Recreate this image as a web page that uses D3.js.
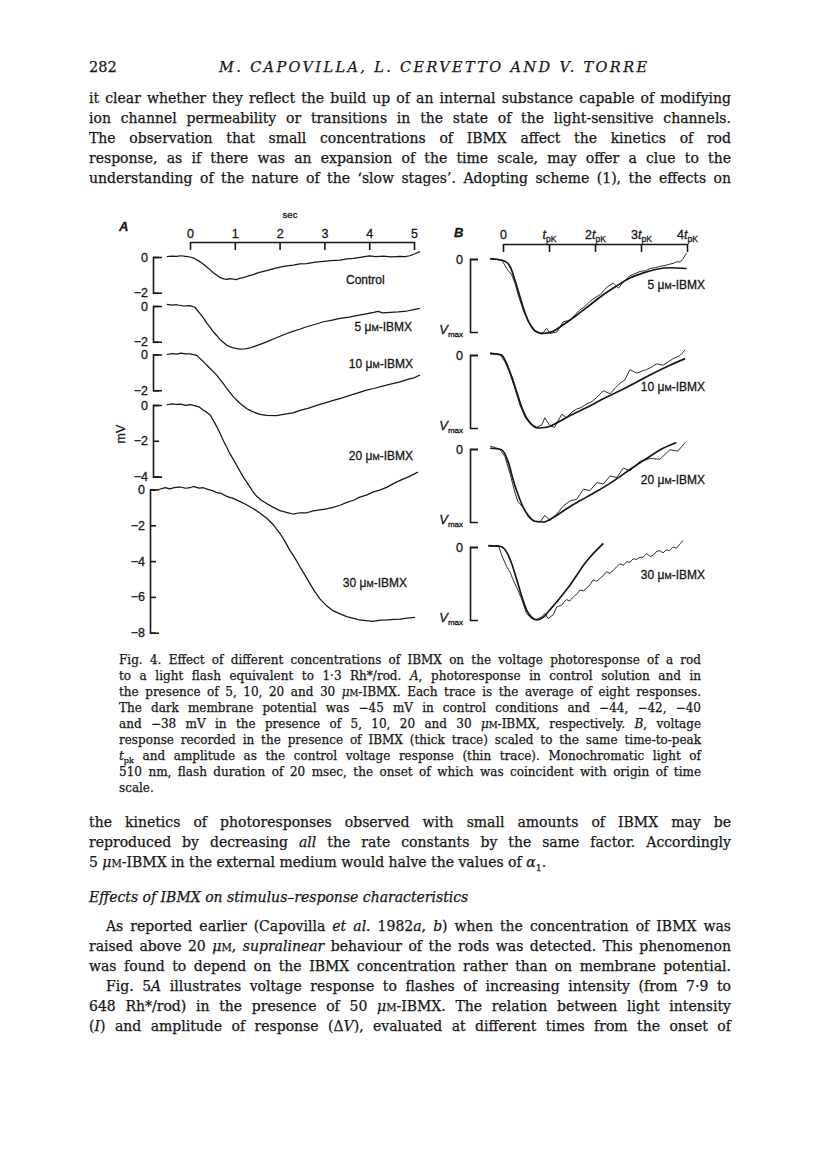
<!DOCTYPE html>
<html>
<head>
<meta charset="utf-8">
<script src="https://cdn.jsdelivr.net/npm/d3@7"></script>
<style>
body { margin: 0; background: #fff; }
svg { display: block; }
.serif { font-family: "DejaVu Serif", serif; fill: #161616; stroke: #161616; stroke-width: 0.25px; }
.sans { font-family: "Liberation Sans", Arial, sans-serif; fill: #161616; stroke: #161616; stroke-width: 0.3px; }
</style>
</head>
<body>
<div id="page"></div>
<script>

// ---------- data ----------

// panel A: [time (sec), voltage (mV)] per trace
var traceControl = [[-0.52,0.02],[-0.4,0.05],[-0.3,0.03],[-0.2,0.07],[-0.1,0.04],[0,0],[0.1,-0.08],[0.22,-0.26],[0.3,-0.4],[0.37,-0.54],[0.45,-0.72],[0.52,-0.88],[0.6,-1.02],[0.67,-1.14],[0.75,-1.22],[0.82,-1.25],[0.9,-1.21],[0.97,-1.24],[1.04,-1.26],[1.1,-1.2],[1.19,-1.15],[1.3,-1.06],[1.41,-0.98],[1.55,-0.86],[1.71,-0.76],[1.85,-0.66],[2.01,-0.56],[2.15,-0.5],[2.31,-0.46],[2.45,-0.38],[2.6,-0.37],[2.8,-0.28],[2.98,-0.24],[3.15,-0.2],[3.35,-0.17],[3.5,-0.1],[3.65,-0.08],[3.8,-0.02],[4,0.06],[4.15,0.02],[4.32,0.05],[4.5,0.01],[4.69,0.04],[4.8,0.02],[4.91,0.07],[5.02,0.18],[5.13,0.3]];
var trace5 = [[-0.52,0.09],[-0.4,0.05],[-0.3,0.07],[-0.15,0],[0,0.02],[0.11,-0.07],[0.22,-0.41],[0.3,-0.66],[0.37,-0.94],[0.45,-1.2],[0.52,-1.44],[0.6,-1.66],[0.67,-1.87],[0.75,-2.04],[0.82,-2.19],[0.9,-2.28],[0.97,-2.34],[1.05,-2.38],[1.12,-2.41],[1.2,-2.4],[1.26,-2.38],[1.34,-2.34],[1.41,-2.28],[1.55,-2.16],[1.71,-2],[1.85,-1.86],[2.01,-1.69],[2.15,-1.55],[2.31,-1.4],[2.45,-1.3],[2.6,-1.16],[2.8,-1.02],[2.98,-0.88],[3.15,-0.8],[3.35,-0.69],[3.55,-0.62],[3.72,-0.54],[3.9,-0.46],[4.1,-0.36],[4.2,-0.3],[4.3,-0.38],[4.47,-0.36],[4.65,-0.33],[4.84,-0.28],[5,-0.2],[5.13,-0.13]];
var trace10 = [[-0.52,0],[-0.4,0.05],[-0.3,0.02],[-0.2,0.08],[-0.1,0.03],[0,0.04],[0.1,-0.02],[0.16,-0.06],[0.22,-0.22],[0.3,-0.4],[0.37,-0.59],[0.45,-0.78],[0.52,-0.96],[0.6,-1.17],[0.67,-1.39],[0.75,-1.64],[0.82,-1.9],[0.9,-2.14],[0.97,-2.37],[1.05,-2.57],[1.12,-2.74],[1.2,-2.89],[1.26,-3.02],[1.34,-3.12],[1.41,-3.21],[1.56,-3.34],[1.71,-3.4],[1.93,-3.42],[2.15,-3.32],[2.3,-3.26],[2.46,-3.12],[2.65,-3],[2.83,-2.84],[3,-2.72],[3.2,-2.56],[3.38,-2.44],[3.57,-2.28],[3.75,-2.14],[3.94,-1.99],[4.1,-1.9],[4.32,-1.75],[4.5,-1.64],[4.69,-1.53],[4.9,-1.36],[5,-1.3],[5.13,-1.15]];
var trace20 = [[-0.52,0],[-0.4,0.06],[-0.3,0.03],[-0.2,0.05],[-0.1,-0.02],[0,0.02],[0.1,-0.03],[0.2,-0.1],[0.29,-0.28],[0.37,-0.4],[0.45,-0.56],[0.52,-0.86],[0.6,-1.22],[0.67,-1.58],[0.74,-1.97],[0.82,-2.36],[0.89,-2.72],[0.97,-3.05],[1.04,-3.37],[1.12,-3.72],[1.19,-4.03],[1.27,-4.32],[1.34,-4.59],[1.41,-4.86],[1.49,-5.1],[1.6,-5.33],[1.72,-5.52],[1.86,-5.72],[2.01,-5.9],[2.15,-6],[2.3,-6.09],[2.45,-6.02],[2.61,-6.02],[2.75,-5.92],[2.9,-5.86],[3.05,-5.8],[3.19,-5.72],[3.35,-5.6],[3.5,-5.44],[3.65,-5.32],[3.79,-5.15],[3.95,-5.02],[4.08,-4.87],[4.25,-4.74],[4.4,-4.59],[4.55,-4.38],[4.69,-4.21],[4.85,-4.04],[5,-3.86],[5.09,-3.74]];
var trace30 = [[-0.7,0],[-0.55,0.1],[-0.45,0.04],[-0.35,0.1],[-0.22,0.14],[-0.1,0.07],[0,0.1],[0.07,0.17],[0.2,0.08],[0.3,0.1],[0.38,0.02],[0.5,-0.06],[0.6,-0.18],[0.7,-0.22],[0.83,-0.4],[0.95,-0.48],[1.12,-0.68],[1.25,-0.84],[1.41,-1.06],[1.55,-1.3],[1.72,-1.62],[1.87,-2],[2.01,-2.46],[2.12,-2.9],[2.23,-3.4],[2.35,-3.86],[2.46,-4.34],[2.57,-4.8],[2.68,-5.27],[2.79,-5.72],[2.9,-6.11],[3.05,-6.5],[3.19,-6.77],[3.35,-6.95],[3.5,-7.1],[3.65,-7.2],[3.79,-7.29],[3.93,-7.32],[4.08,-7.37],[4.25,-7.3],[4.4,-7.29],[4.55,-7.26],[4.69,-7.24],[4.85,-7.18],[5.02,-7.15]];

var tracesA = [traceControl, trace5, trace10, trace20, trace30];
var labelsA = ["Control", "5 μ^M^-IBMX", "10 μ^M^-IBMX", "20 μ^M^-IBMX", "30 μ^M^-IBMX"];
var bracketTicksA = [[0, -2], [0, -2], [0, -2], [0, -2, -4], [0, -2, -4, -6, -8]];
var timeTicksA = [0, 1, 2, 3, 4, 5];

// panel B: [time (units of tpk), voltage (fraction of Vmax)]
var thick5 = [[-0.28,0],[0,-0.02],[0.15,-0.1],[0.26,-0.29],[0.37,-0.52],[0.48,-0.74],[0.59,-0.9],[0.73,-1],[0.88,-1.02],[1.09,-0.99],[1.31,-0.9],[1.6,-0.77],[1.89,-0.63],[2.18,-0.49],[2.47,-0.37],[2.76,-0.26],[3.05,-0.19],[3.34,-0.14],[3.63,-0.12],[3.99,-0.13]];
var thin5 = [[-0.28,0.01],[-0.03,-0.01],[0.08,-0.13],[0.19,-0.22],[0.26,-0.33],[0.33,-0.49],[0.44,-0.7],[0.55,-0.86],[0.7,-0.98],[0.84,-1.03],[0.95,-0.95],[1.02,-1.02],[1.17,-1],[1.31,-0.86],[1.46,-0.84],[1.57,-0.76],[1.67,-0.7],[1.78,-0.65],[1.89,-0.58],[2,-0.53],[2.11,-0.49],[2.25,-0.39],[2.4,-0.33],[2.51,-0.4],[2.62,-0.31],[2.76,-0.23],[2.87,-0.2],[2.98,-0.17],[3.1,-0.16],[3.2,-0.13],[3.3,-0.12],[3.41,-0.1],[3.52,-0.09],[3.63,-0.07],[3.7,-0.06],[3.77,-0.04],[3.85,-0.04],[3.92,0.01],[3.99,0.08]];
var thick10 = [[-0.28,0.02],[-0.03,0],[0.08,-0.12],[0.19,-0.3],[0.3,-0.51],[0.41,-0.72],[0.51,-0.86],[0.62,-0.95],[0.77,-1],[0.95,-0.99],[1.17,-0.93],[1.46,-0.83],[1.82,-0.72],[2.18,-0.6],[2.54,-0.49],[2.91,-0.37],[3.27,-0.25],[3.63,-0.14],[3.96,-0.05]];
var thin10 = [[-0.28,0.03],[-0.07,0.01],[0.04,-0.09],[0.15,-0.25],[0.26,-0.46],[0.37,-0.69],[0.48,-0.85],[0.59,-0.94],[0.73,-0.99],[0.84,-0.96],[0.91,-0.86],[1.02,-0.97],[1.12,-0.99],[1.28,-0.81],[1.38,-0.86],[1.5,-0.78],[1.6,-0.74],[1.7,-0.72],[1.82,-0.67],[1.93,-0.64],[2.04,-0.58],[2.18,-0.49],[2.33,-0.53],[2.44,-0.45],[2.54,-0.39],[2.65,-0.34],[2.76,-0.2],[2.91,-0.25],[3.02,-0.22],[3.12,-0.2],[3.22,-0.17],[3.34,-0.12],[3.48,-0.14],[3.6,-0.09],[3.7,-0.05],[3.84,-0.01],[3.96,0.07]];
var thick20 = [[-0.28,0.01],[-0.03,-0.01],[0.12,-0.19],[0.22,-0.42],[0.33,-0.63],[0.44,-0.8],[0.55,-0.91],[0.7,-0.99],[0.88,-1],[1.09,-0.94],[1.31,-0.85],[1.53,-0.76],[1.67,-0.71],[2.04,-0.58],[2.4,-0.44],[2.76,-0.28],[3.12,-0.13],[3.48,0.01],[3.77,0.09]];
var thin20 = [[-0.28,0.04],[-0.07,0],[0.04,-0.1],[0.15,-0.33],[0.26,-0.6],[0.33,-0.73],[0.44,-0.8],[0.55,-0.93],[0.66,-0.99],[0.8,-1],[0.91,-0.91],[1.02,-0.98],[1.17,-0.89],[1.31,-0.78],[1.46,-0.71],[1.6,-0.69],[1.75,-0.55],[1.89,-0.57],[2.04,-0.46],[2.18,-0.48],[2.33,-0.37],[2.47,-0.39],[2.62,-0.26],[2.76,-0.3],[2.98,-0.17],[3.2,-0.13],[3.41,-0.14],[3.63,-0.01],[3.8,-0.03],[3.96,0.09]];
var thick30 = [[-0.32,0.02],[-0.07,0.01],[0.08,-0.07],[0.19,-0.23],[0.3,-0.45],[0.41,-0.68],[0.51,-0.86],[0.62,-0.96],[0.73,-1],[0.88,-0.96],[1.02,-0.86],[1.17,-0.75],[1.31,-0.64],[1.46,-0.52],[1.6,-0.39],[1.75,-0.25],[1.89,-0.14],[2.04,-0.04],[2.18,0.05]];
var thin30 = [[-0.32,0.01],[-0.1,0.02],[-0.03,-0.11],[0.08,-0.27],[0.15,-0.34],[0.22,-0.45],[0.31,-0.57],[0.41,-0.72],[0.51,-0.91],[0.62,-0.98],[0.73,-0.99],[0.84,-0.96],[0.91,-0.91],[0.98,-0.98],[1.09,-0.93],[1.17,-0.82],[1.27,-0.8],[1.32,-0.76],[1.38,-0.72],[1.45,-0.74],[1.53,-0.68],[1.6,-0.65],[1.67,-0.59],[1.75,-0.6],[1.82,-0.56],[1.89,-0.52],[1.96,-0.45],[2.04,-0.47],[2.11,-0.43],[2.18,-0.39],[2.25,-0.34],[2.32,-0.36],[2.4,-0.32],[2.47,-0.27],[2.54,-0.23],[2.62,-0.25],[2.69,-0.2],[2.76,-0.21],[2.83,-0.16],[2.9,-0.17],[2.98,-0.14],[3.05,-0.14],[3.12,-0.09],[3.2,-0.13],[3.27,-0.11],[3.34,-0.06],[3.41,-0.05],[3.48,-0.08],[3.55,-0.04],[3.62,-0.05],[3.7,0],[3.77,-0.02],[3.84,0.04],[3.92,0.09]];

var thickB = [thick5, thick10, thick20, thick30];
var thinB = [thin5, thin10, thin20, thin30];
var labelsB = ["5 μ^M^-IBMX", "10 μ^M^-IBMX", "20 μ^M^-IBMX", "30 μ^M^-IBMX"];
var timeTicksB = [0, 1, 2, 3, 4];

// page text (_italic_, ^small caps^, ~subscript~)
var header = "282";
var runningTitle = "M. CAPOVILLA, L. CERVETTO AND V. TORRE";
var bodyTop = [
    "it clear whether they reflect the build up of an internal substance capable of modifying",
    "ion channel permeability or transitions in the state of the light-sensitive channels.",
    "The observation that small concentrations of IBMX affect the kinetics of rod",
    "response, as if there was an expansion of the time scale, may offer a clue to the",
    "understanding of the nature of the \u2018slow stages\u2019. Adopting scheme (1), the effects on"
];
var caption = [
    "Fig. 4. Effect of different concentrations of IBMX on the voltage photoresponse of a rod",
    "to a light flash equivalent to 1\u00b73 Rh*/rod. _A_, photoresponse in control solution and in",
    "the presence of 5, 10, 20 and 30 _μ_^M^-IBMX. Each trace is the average of eight responses.",
    "The dark membrane potential was \u221245 mV in control conditions and \u221244, \u221242, \u221240",
    "and \u221238 mV in the presence of 5, 10, 20 and 30 _μ_^M^-IBMX, respectively. _B_, voltage",
    "response recorded in the presence of IBMX (thick trace) scaled to the same time-to-peak",
    "_t_~pk~ and amplitude as the control voltage response (thin trace). Monochromatic light of",
    "510 nm, flash duration of 20 msec, the onset of which was coincident with origin of time",
    "scale."
];
var bodyBottom = [
    "the kinetics of photoresponses observed with small amounts of IBMX may be",
    "reproduced by decreasing _all_ the rate constants by the same factor. Accordingly",
    "5 _μ_^M^-IBMX in the external medium would halve the values of _α_~1~."
];
var heading = "Effects of IBMX on stimulus\u2013response characteristics";
var bodyLast = [
    "As reported earlier (Capovilla _et al_. 1982_a_, _b_) when the concentration of IBMX was",
    "raised above 20 _μ_^M^, _supralinear_ behaviour of the rods was detected. This phenomenon",
    "was found to depend on the IBMX concentration rather than on membrane potential.",
    "Fig. 5_A_ illustrates voltage response to flashes of increasing intensity (from 7\u00b79 to",
    "648 Rh*/rod) in the presence of 50 _μ_^M^-IBMX. The relation between light intensity",
    "(_I_) and amplitude of response (\u0394_V_), evaluated at different times from the onset of"
];

// ---------- page ----------

var svg = d3.select("#page").append("svg")
    .attr("width", 816)
    .attr("height", 1160);

svg.append("rect").attr("width", 816).attr("height", 1160).attr("fill", "#fff");

// write a line of mixed text
function richText(g, x, y, str, size, cls) {
    var t = g.append("text").attr("class", cls).attr("x", x).attr("y", y).attr("font-size", size);
    var parts = str.split(/(_[^_]+_|\^[^^]+\^|~[^~]+~)/).filter(s => s.length);
    var shift = 0;
    parts.forEach(function(p) {
        var ts = t.append("tspan");
        var dy = 0;
        if (p[0] === "_") {
            ts.attr("font-style", "italic");
            p = p.slice(1, -1);
        } else if (p[0] === "^") {
            ts.attr("font-size", size * 0.72);
            p = p.slice(1, -1);
        } else if (p[0] === "~") {
            ts.attr("font-size", size * 0.68);
            p = p.slice(1, -1);
            dy = size * 0.28;
        }
        if (dy - shift !== 0) ts.attr("dy", dy - shift);
        shift = dy;
        ts.text(p);
    });
    return t;
}

// justify by word spacing, squeeze glyphs if the line is too long
function textLine(g, x, y, w, str, size, justify) {
    var t = richText(g, x, y, str, size, "serif");
    if (justify) {
        var len = t.node().getComputedTextLength();
        var n = (str.match(/ /g) || []).length;
        if (len > w) {
            t.attr("textLength", w).attr("lengthAdjust", "spacingAndGlyphs");
        } else if (n) {
            t.style("word-spacing", ((w - len) / n) + "px");
        }
    }
    return t;
}

var text = svg.append("g");
var left = 89, right = 731, bodySize = 14, lead = 20;

text.append("text").attr("class", "serif").attr("x", left).attr("y", 72)
    .attr("font-size", 14.5).text(header);
text.append("text").attr("class", "serif").attr("x", 219).attr("y", 72)
    .attr("font-size", 14.5).attr("font-style", "italic")
    .attr("textLength", 428).attr("lengthAdjust", "spacing")
    .text(runningTitle);

bodyTop.forEach(function(s, i) {
    textLine(text, left, 103 + i * lead, right - left, s, bodySize, true);
});

caption.forEach(function(s, i) {
    textLine(text, 119, 664 + i * 16, 582, s, 12, i < caption.length - 1);
});

bodyBottom.forEach(function(s, i) {
    textLine(text, left, 827 + i * lead, right - left, s, bodySize, i < 2);
});

richText(text, left, 902, "_" + heading + "_", bodySize, "serif");

bodyLast.forEach(function(s, i) {
    var indent = (i === 0 || i === 3) ? 17 : 0;
    textLine(text, left + indent, 931 + i * lead, right - left - indent, s, bodySize, true);
});

// ---------- panel A ----------

var mvPx = 17.9;
var baseA = [257, 306, 354.5, 405, 489.5];
var xA = d3.scaleLinear().domain([0, 5]).range([190, 414]);
var yA = d3.scaleLinear().domain([0, -8]).range([0, 8 * mvPx]);

var panelA = svg.append("g");

var timeAxisA = d3.axisTop(xA)
    .tickValues(timeTicksA)
    .tickSizeInner(-8)
    .tickSizeOuter(0)
    .tickPadding(4)
    .tickFormat(d3.format("d"));

panelA.append("g")
    .attr("transform", "translate(0,242)")
    .call(timeAxisA)
    .call(g => g.selectAll("path, line").attr("stroke-width", 1.6))
    .call(g => g.selectAll("text").attr("class", "sans"))
    .attr("font-size", 12.5)
    .attr("color", "#161616");

panelA.append("text").attr("class", "sans").attr("x", 290).attr("y", 218)
    .attr("font-size", 9.5).attr("text-anchor", "middle").text("sec");
panelA.append("text").attr("class", "sans").attr("x", 119).attr("y", 231)
    .attr("font-size", 13).attr("font-style", "italic").attr("font-weight", "bold").text("A");

var lineA = d3.line()
    .x(d => xA(d[0]))
    .y(d => yA(d[1]));

var labelPosA = [[346, 284, "start"], [412, 331, "end"], [413, 368, "end"], [413, 460, "end"], [407, 587, "end"]];

tracesA.forEach(function(tr, i) {
    var g = panelA.append("g").attr("transform", "translate(0," + baseA[i] + ")");
    var ticks = bracketTicksA[i];
    var lo = ticks[ticks.length - 1];
    var bx = i === 4 ? 150 : 153;
    var yb = d3.scaleLinear().domain([0, lo]).range([0, yA(lo)]);
    g.append("g")
        .attr("transform", "translate(" + bx + ",0)")
        .call(d3.axisLeft(yb).tickValues(ticks).tickSizeInner(-6).tickSizeOuter(-9)
            .tickPadding(5).tickFormat(d3.format("d")))
        .call(g => g.selectAll("path, line").attr("stroke-width", 1.6))
        .call(g => g.selectAll("text").attr("class", "sans"))
        .attr("font-size", 12.5)
        .attr("color", "#161616");
    g.append("path")
        .datum(tr)
        .attr("fill", "none")
        .attr("stroke", "#161616")
        .attr("stroke-width", 1.25)
        .attr("stroke-linejoin", "round")
        .attr("d", lineA);
    richText(panelA, labelPosA[i][0], labelPosA[i][1], labelsA[i], 12, "sans")
        .attr("text-anchor", labelPosA[i][2]);
});

panelA.append("text").attr("class", "sans")
    .attr("transform", "translate(121,434) rotate(-90)")
    .attr("text-anchor", "middle").attr("dy", "0.35em")
    .attr("font-size", 12.5).text("mV");

// ---------- panel B ----------

var vmaxPx = 73;
var baseB = [259, 355, 449, 547];
var xB = d3.scaleLinear().domain([0, 4]).range([503, 687]);
var yB = d3.scaleLinear().domain([0, -1]).range([0, vmaxPx]);

var panelB = svg.append("g");

panelB.append("g")
    .attr("transform", "translate(0,244)")
    .call(d3.axisTop(xB).tickValues(timeTicksB).tickSizeInner(-8).tickSizeOuter(0)
        .tickPadding(5).tickFormat(""))
    .call(g => g.selectAll("path, line").attr("stroke-width", 1.6))
    .attr("font-size", 12.5)
    .attr("color", "#161616")
    .call(g => g.selectAll(".tick text").attr("class", "sans").each(function(d) {
        var t = d3.select(this).text(null);
        if (d === 0) { t.text("0"); return; }
        if (d > 1) t.append("tspan").text(d);
        t.append("tspan").attr("font-style", "italic").text("t");
        t.append("tspan").attr("font-size", 8.5).attr("dy", 3).text("pK");
    }));

panelB.append("text").attr("class", "sans").attr("x", 454).attr("y", 237)
    .attr("font-size", 13).attr("font-style", "italic").attr("font-weight", "bold").text("B");

var lineB = d3.line()
    .x(d => xB(d[0]))
    .y(d => yB(d[1]));

var smoothB = d3.line()
    .x(d => xB(d[0]))
    .y(d => yB(d[1]))
    .curve(d3.curveMonotoneX);

var labelYB = [289, 391, 484, 579];

thickB.forEach(function(tr, i) {
    var g = panelB.append("g").attr("transform", "translate(0," + baseB[i] + ")");
    g.append("g")
        .attr("transform", "translate(470,0)")
        .call(d3.axisLeft(yB).tickValues([0]).tickSizeInner(-8).tickSizeOuter(-8)
            .tickPadding(7).tickFormat(d3.format("d")))
        .call(g => g.selectAll("path, line").attr("stroke-width", 1.6))
        .call(g => g.selectAll("text").attr("class", "sans"))
        .attr("font-size", 12.5)
        .attr("color", "#161616");
    var vm = g.append("text").attr("class", "sans")
        .attr("x", 463).attr("y", vmaxPx + 2)
        .attr("text-anchor", "end").attr("font-size", 13);
    vm.append("tspan").attr("font-style", "italic").text("V");
    vm.append("tspan").attr("font-size", 8).attr("dy", 3).text("max");

    g.append("path")
        .datum(thinB[i])
        .attr("fill", "none")
        .attr("stroke", "#161616")
        .attr("stroke-width", 0.9)
        .attr("stroke-linejoin", "round")
        .attr("d", lineB);
    g.append("path")
        .datum(tr)
        .attr("fill", "none")
        .attr("stroke", "#161616")
        .attr("stroke-width", 1.7)
        .attr("d", smoothB);

    richText(panelB, 705, labelYB[i], labelsB[i], 12, "sans").attr("text-anchor", "end");
});

</script>
</body>
</html>
